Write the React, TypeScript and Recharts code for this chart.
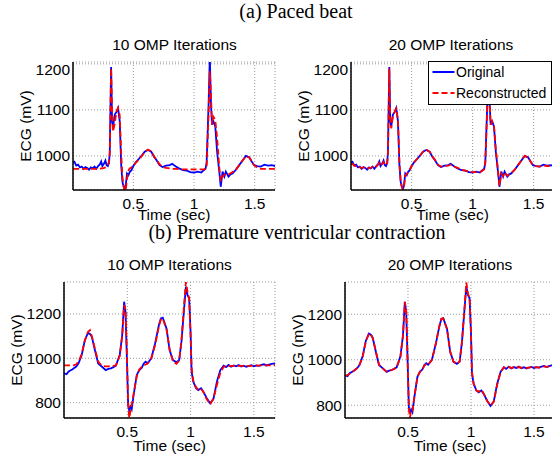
import React from "react";
import { LineChart, Line, XAxis, YAxis, CartesianGrid, Legend } from "recharts";

// (a) paced beat, time in sec
const paceT = [
  0.003, 0.015, 0.03, 0.045, 0.06, 0.075, 0.09, 0.105, 0.12, 0.135,
  0.15, 0.165, 0.18, 0.195, 0.21, 0.225, 0.235, 0.245, 0.26, 0.27,
  0.28, 0.29, 0.3, 0.306, 0.317, 0.325, 0.333, 0.347, 0.36, 0.374,
  0.388, 0.4, 0.41, 0.42, 0.428, 0.437, 0.448, 0.46, 0.47, 0.484,
  0.5, 0.52, 0.55, 0.57, 0.593, 0.62, 0.648, 0.67, 0.69, 0.716,
  0.74, 0.77, 0.8, 0.82, 0.85, 0.876, 0.91, 0.94, 0.97, 1.0,
  1.03, 1.06, 1.08, 1.095, 1.104, 1.12, 1.13, 1.14, 1.148, 1.16,
  1.175, 1.19, 1.208, 1.22, 1.235, 1.25, 1.262, 1.284, 1.3, 1.317,
  1.345, 1.372, 1.4, 1.427, 1.454, 1.475, 1.495, 1.52, 1.55, 1.58,
  1.61, 1.64, 1.667,
];
const paceOriginal = [
  985, 987, 979, 981, 975, 977, 972, 976, 974, 970,
  975, 973, 977, 972, 978, 982, 988, 978, 984, 990,
  980, 978, 985, 1010, 1193, 1075, 1064, 1090, 1095, 1104,
  1075, 980, 944, 933, 928, 935, 962, 958, 965, 969,
  978, 986, 995, 1001, 1009, 1013, 1009, 998, 991, 980,
  976, 979, 980, 983, 977, 973, 969, 968, 965, 964,
  966, 964, 969, 972, 987, 1112, 1215, 1110, 1068, 1075,
  1064, 1009, 966, 933, 966, 955, 966, 955, 960, 962,
  970, 980, 990, 1000, 997, 988, 980, 978, 977, 981,
  979, 980, 978,
];
const paceRec10 = [
  972, 972, 972, 972, 972, 972, 972, 972, 972, 972,
  972, 972, 972, 972, 972, 972, 973, 973, 974, 975,
  977, 980, 988, 1005, 1190, 1100, 1053, 1070, 1095, 1104,
  1088, 1005, 955, 935, 926, 924, 950, 968, 973, 975,
  979, 985, 993, 1000, 1008, 1014, 1010, 1000, 992, 982,
  976, 974, 973, 972, 972, 971, 971, 971, 971, 971,
  971, 971, 971, 972, 975, 1090, 1184, 1130, 1068, 1085,
  1078, 1040, 975, 945, 955, 960, 958, 960, 962, 965,
  970, 980, 990, 999, 997, 988, 980, 975, 972, 972,
  972, 972, 972,
];
const paceRec20 = [
  982, 983, 979, 978, 976, 975, 974, 975, 974, 972,
  974, 974, 976, 974, 977, 981, 985, 980, 983, 987,
  982, 980, 984, 1005, 1190, 1080, 1060, 1088, 1095, 1103,
  1078, 985, 946, 932, 928, 932, 958, 960, 965, 970,
  978, 986, 995, 1001, 1009, 1014, 1009, 999, 992, 981,
  977, 978, 979, 981, 977, 974, 970, 968, 966, 965,
  965, 965, 968, 971, 985, 1105, 1200, 1110, 1068, 1075,
  1066, 1015, 968, 935, 962, 956, 964, 957, 960, 963,
  970, 980, 990, 1000, 997, 988, 980, 978, 977, 979,
  978, 978, 977,
];

// (b) premature ventricular contraction
const pvcT = [
  0.0, 0.02, 0.035, 0.05, 0.065, 0.08, 0.095, 0.115, 0.14, 0.165,
  0.19, 0.205, 0.22, 0.25, 0.27, 0.3, 0.33, 0.35, 0.37, 0.39,
  0.41, 0.44, 0.46, 0.475, 0.486, 0.496, 0.507, 0.515, 0.525, 0.535,
  0.55, 0.575, 0.595, 0.615, 0.63, 0.645, 0.66, 0.69, 0.72, 0.75,
  0.765, 0.78, 0.81, 0.835, 0.861, 0.888, 0.91, 0.928, 0.947, 0.963,
  0.976, 0.989, 1.0, 1.008, 1.021, 1.043, 1.061, 1.083, 1.101, 1.128,
  1.155, 1.181, 1.208, 1.235, 1.261, 1.28, 1.3, 1.32, 1.34, 1.36,
  1.38, 1.4, 1.42, 1.44, 1.46, 1.48, 1.5, 1.52, 1.54, 1.56,
  1.58, 1.6, 1.62, 1.64, 1.667,
];
const pvcOriginal = [
  932, 928, 940, 945, 950, 956, 962, 977, 1015, 1083,
  1115, 1110, 1097, 1023, 977, 962, 947, 952, 955, 960,
  967, 1015, 1105, 1255, 1210, 1015, 789, 765, 782, 770,
  834, 925, 947, 958, 977, 985, 978, 1000, 1068, 1150,
  1180, 1183, 1135, 1035, 992, 982, 992, 1075, 1210, 1323,
  1285, 1270, 1120, 940, 895, 865, 857, 865, 850, 820,
  797, 817, 895, 947, 967, 960, 970, 962, 968, 964,
  970, 963, 967, 962, 966, 969, 964, 968, 966, 970,
  973, 968, 972, 975, 977,
];
const pvcRec10 = [
  968, 968, 968, 968, 968, 969, 972, 985, 1020, 1080,
  1120, 1127, 1100, 1030, 985, 966, 964, 964, 965, 966,
  968, 1010, 1100, 1240, 1220, 1040, 800, 731, 760, 790,
  840, 920, 950, 962, 968, 972, 976, 1000, 1060, 1145,
  1175, 1180, 1130, 1040, 985, 975, 990, 1080, 1230, 1344,
  1300, 1270, 1100, 960, 900, 870, 858, 862, 848, 815,
  793, 820, 880, 935, 962, 965, 965, 966, 966, 966,
  966, 966, 966, 966, 966, 966, 966, 967, 967, 968,
  968, 968, 968, 969, 970,
];
const pvcRec20 = [
  930, 932, 938, 944, 950, 955, 963, 978, 1012, 1080,
  1115, 1112, 1095, 1025, 978, 962, 948, 950, 955, 960,
  966, 1012, 1105, 1255, 1215, 1020, 785, 746, 775, 772,
  835, 925, 948, 958, 975, 980, 978, 1000, 1068, 1150,
  1180, 1182, 1135, 1035, 992, 982, 992, 1075, 1215, 1340,
  1290, 1270, 1120, 945, 895, 865, 860, 868, 852, 820,
  798, 815, 890, 945, 967, 963, 968, 964, 967, 965,
  968, 965, 966, 964, 966, 968, 966, 967, 966, 969,
  971, 969, 971, 973, 975,
];

const xTicks = [0.5, 1, 1.5];
const paceYTicks = [1000, 1100, 1200];
const pvcYTicks = [800, 1000, 1200];

const SANS = '"Liberation Sans", Arial, Helvetica, sans-serif';
const SERIF = '"Liberation Serif", "Times New Roman", serif';

const YW = 60;
const XH = 45;
const MT = 2;
const MR = 2;

type Box = { x0: number; y0: number; x1: number; y1: number };

type PanelProps = {
  t: number[];
  orig: number[];
  rec: number[];
  xDomain: [number, number];
  yDomain: [number, number];
  yTicks: number[];
  box: Box;
  xLabelOffset: number;
  legend?: boolean;
};

function LegendBox({ payload }: any) {
  return (
    <div
      style={{
        boxSizing: "border-box",
        width: 124,
        height: 44,
        border: "1.5px solid #000",
        background: "#fff",
        fontFamily: SANS,
        fontSize: 14,
        color: "#000",
      }}
    >
      {(payload || []).map((entry: any) => (
        <div key={entry.value} style={{ display: "flex", alignItems: "center", height: 20.5 }}>
          <svg width={27} height={6} style={{ flex: "none" }}>
            <line
              x1={3.5}
              y1={3}
              x2={25.5}
              y2={3}
              stroke={entry.color}
              strokeWidth={2}
              strokeDasharray={entry.payload && entry.payload.strokeDasharray}
            />
          </svg>
          <span style={{ whiteSpace: "nowrap" }}>{entry.value}</span>
        </div>
      ))}
    </div>
  );
}

function Panel({ t, orig, rec, xDomain, yDomain, yTicks, box, xLabelOffset, legend }: PanelProps) {
  const data = t.map((x, i) => ({ t: x, orig: orig[i], rec: rec[i] }));
  const w = box.x1 - box.x0 + YW + MR;
  const h = box.y1 - box.y0 + MT + XH;
  const left = box.x0 - YW;
  const top = box.y0 - MT;
  const tickStyle = { fontFamily: SANS, fontSize: 15.5, fill: "#000" };
  const border = { stroke: "#000", strokeWidth: 1.5 };
  return (
    <div style={{ position: "absolute", left, top, width: w, height: h }}>
      <LineChart width={w} height={h} data={data} margin={{ top: MT, right: MR, left: 0, bottom: 0 }}>
        <CartesianGrid stroke="#999" strokeDasharray="1 2" strokeWidth={1} />
        <XAxis
          dataKey="t"
          type="number"
          domain={xDomain}
          ticks={xTicks}
          allowDataOverflow
          height={XH}
          tickSize={0}
          tickMargin={8}
          tickLine={false}
          axisLine={border}
          tick={tickStyle}
          label={{
            value: "Time (sec)",
            position: "insideBottom",
            offset: xLabelOffset,
            fontFamily: SANS,
            fontSize: 15.5,
            fill: "#000",
          }}
        />
        <XAxis
          xAxisId="top"
          orientation="top"
          dataKey="t"
          type="number"
          domain={xDomain}
          allowDataOverflow
          height={0}
          tick={false}
          tickLine={false}
          axisLine={border}
        />
        <YAxis
          type="number"
          domain={yDomain}
          ticks={yTicks}
          allowDataOverflow
          width={YW}
          tickSize={0}
          tickMargin={3}
          tickLine={false}
          axisLine={border}
          tick={tickStyle}
          label={{
            value: "ECG (mV)",
            angle: -90,
            position: "insideLeft",
            offset: 12,
            fontFamily: SANS,
            fontSize: 15.5,
            fill: "#000",
            style: { textAnchor: "middle" },
          }}
        />
        <YAxis
          yAxisId="right"
          orientation="right"
          type="number"
          domain={yDomain}
          allowDataOverflow
          width={0}
          tick={false}
          tickLine={false}
          axisLine={border}
        />
        <Line
          name="Original"
          dataKey="orig"
          type="linear"
          stroke="#0000ff"
          strokeWidth={1.8}
          dot={false}
          isAnimationActive={false}
        />
        <Line
          name="Reconstructed"
          dataKey="rec"
          type="linear"
          stroke="#ff0000"
          strokeWidth={1.8}
          strokeDasharray="6 3"
          dot={false}
          isAnimationActive={false}
        />
        {legend && (
          <Legend
            layout="horizontal"
            verticalAlign="middle"
            align="center"
            content={LegendBox}
            wrapperStyle={{ left: 428 - left, top: 61 - top, width: 124, height: 44 }}
          />
        )}
      </LineChart>
    </div>
  );
}

const headers = [
  { text: "(a) Paced beat", x: 296, y: 18 },
  { text: "(b) Premature ventricular contraction", x: 297, y: 239 },
];
const titles = [
  { text: "10 OMP Iterations", x: 174.5, y: 50 },
  { text: "20 OMP Iterations", x: 451, y: 50 },
  { text: "10 OMP Iterations", x: 169.5, y: 270 },
  { text: "20 OMP Iterations", x: 450, y: 269.5 },
];

export default function App() {
  return (
    <div
      style={{
        position: "absolute",
        left: 0,
        top: 0,
        width: 552,
        height: 455,
        overflow: "hidden",
        background: "#fff",
      }}
    >
      <svg width={552} height={455} style={{ position: "absolute", left: 0, top: 0 }}>
        {headers.map((h) => (
          <text key={h.text} x={h.x} y={h.y} textAnchor="middle" fontFamily={SERIF} fontSize={20} fill="#000">
            {h.text}
          </text>
        ))}
        {titles.map((h, i) => (
          <text key={i} x={h.x} y={h.y} textAnchor="middle" fontFamily={SANS} fontSize={15.5} fill="#000">
            {h.text}
          </text>
        ))}
      </svg>
      <Panel
        t={paceT}
        orig={paceOriginal}
        rec={paceRec10}
        xDomain={[0.003, 1.667]}
        yDomain={[926, 1204]}
        yTicks={paceYTicks}
        box={{ x0: 73, y0: 62, x1: 275, y1: 190 }}
        xLabelOffset={15}
      />
      <Panel
        t={paceT}
        orig={paceOriginal}
        rec={paceRec20}
        xDomain={[0.003, 1.667]}
        yDomain={[926, 1204]}
        yTicks={paceYTicks}
        box={{ x0: 351, y0: 62, x1: 554, y1: 190 }}
        xLabelOffset={15}
        legend
      />
      <Panel
        t={pvcT}
        orig={pvcOriginal}
        rec={pvcRec10}
        xDomain={[0, 1.667]}
        yDomain={[731, 1344]}
        yTicks={pvcYTicks}
        box={{ x0: 64, y0: 282, x1: 275, y1: 418 }}
        xLabelOffset={12}
      />
      <Panel
        t={pvcT}
        orig={pvcOriginal}
        rec={pvcRec20}
        xDomain={[0, 1.667]}
        yDomain={[744, 1342]}
        yTicks={pvcYTicks}
        box={{ x0: 345, y0: 282, x1: 555, y1: 418 }}
        xLabelOffset={12}
      />
    </div>
  );
}
